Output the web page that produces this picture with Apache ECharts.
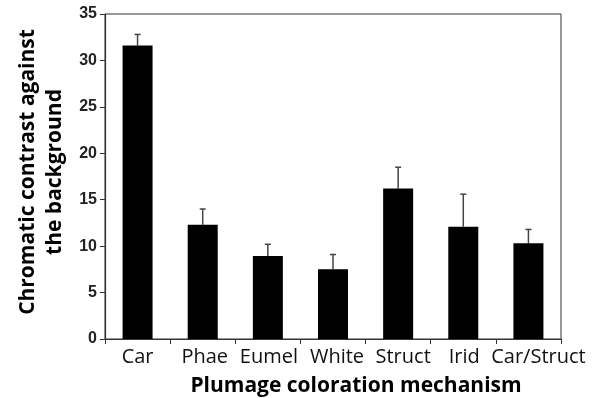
<!DOCTYPE html>
<html><head><meta charset="utf-8">
<script src="https://cdn.jsdelivr.net/npm/echarts@6/dist/echarts.min.js"></script>
<style>html,body{margin:0;padding:0;background:#fff}#c{width:598px;height:398px}</style>
</head><body><div id="c"></div>
<script>
var categories = ['Car', 'Phae', 'Eumel', 'White', 'Struct', 'Irid', 'Car/Struct'];
var means = [31.6, 12.3, 8.95, 7.5, 16.2, 12.1, 10.3];
var upperErrors = [32.8, 14.0, 10.2, 9.1, 18.5, 15.6, 11.8];
var yTicks = [0, 5, 10, 15, 20, 25, 30, 35];

var labelShift = [0, 4, 2, 8, 10, 2, 20];
var rich = {};
labelShift.forEach(function (s, i) {
  rich['l' + i] = { fontFamily: 'Open Sans', fontSize: 20, color: '#111', padding: [0, 0, 0, s] };
});

var chart = echarts.init(document.getElementById('c'));
var errData = categories.map(function (c, i) { return [i, means[i], upperErrors[i]]; });
chart.setOption({
  animation: false,
  backgroundColor: '#fff',
  grid: { left: 105, right: 37, top: 14, bottom: 59, outerBoundsMode: 'none', containLabel: false, show: true, borderColor: '#333', borderWidth: 1, backgroundColor: 'transparent' },
  xAxis: {
    type: 'category', data: categories,
    axisLine: { lineStyle: { color: '#333', width: 1.2 } },
    axisTick: { show: true, length: 5, lineStyle: { color: '#333' } },
    axisLabel: {
      interval: 0, margin: 8, color: '#111', fontFamily: 'Open Sans', fontSize: 20, rich: rich,
      formatter: function (v, i) { return '{l' + i + '|' + v + '}'; }
    },
    name: 'Plumage coloration mechanism', nameLocation: 'middle', nameGap: 37,
    nameTextStyle: { fontFamily: 'Open Sans', fontWeight: 'bold', fontSize: 21, color: '#000', padding: [0, 0, 0, 46] }
  },
  yAxis: {
    type: 'value', min: yTicks[0], max: yTicks[yTicks.length - 1], interval: 5,
    splitLine: { show: false },
    axisLine: { show: true, lineStyle: { color: '#333', width: 1.2 } },
    axisTick: { show: true, length: 5, lineStyle: { color: '#333' } },
    axisLabel: { margin: 8, color: '#222', fontFamily: 'Liberation Sans', fontWeight: 'bold', fontSize: 16 },
    name: 'Chromatic contrast against\nthe background', nameLocation: 'middle', nameRotate: 90, nameGap: 33,
    nameTextStyle: { fontFamily: 'Open Sans', fontWeight: 'bold', fontSize: 21, color: '#000', lineHeight: 27, padding: [0, 0, 0, 9] }
  },
  series: [
    { type: 'bar', data: means, barWidth: 30, itemStyle: { color: '#000' }, z: 2 },
    {
      type: 'custom', data: errData, z: 1,
      renderItem: function (params, api) {
        var x = api.value(0);
        var base = api.coord([x, api.value(1)]);
        var top = api.coord([x, api.value(2)]);
        var cap = 3;
        var st = { stroke: '#444', lineWidth: 1.5 };
        return { type: 'group', children: [
          { type: 'line', shape: { x1: base[0], y1: base[1], x2: top[0], y2: top[1] }, style: st },
          { type: 'line', shape: { x1: top[0] - cap, y1: top[1], x2: top[0] + cap, y2: top[1] }, style: st }
        ] };
      }
    }
  ]
});
</script></body></html>
